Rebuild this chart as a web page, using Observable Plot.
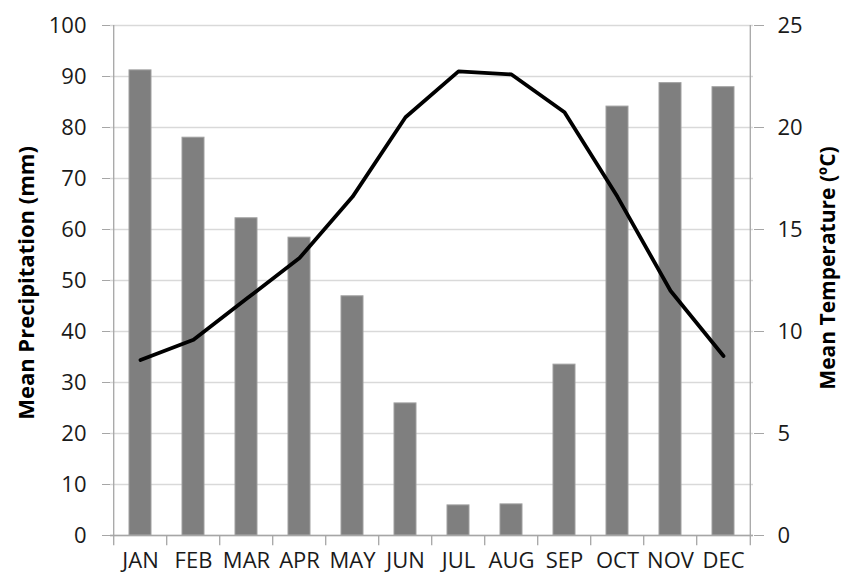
<!DOCTYPE html>
<html>
<head>
<meta charset="utf-8">
<script src="https://cdn.jsdelivr.net/npm/d3@7"></script>
<script src="https://cdn.jsdelivr.net/npm/@observablehq/plot@0.6"></script>
<style>
  html, body { margin: 0; padding: 0; background: #fff; }
  #chart svg { display: block; }
</style>
</head>
<body>
<div id="chart"></div>
<script>
const months = ["JAN","FEB","MAR","APR","MAY","JUN","JUL","AUG","SEP","OCT","NOV","DEC"];
const precipitation = [91.2, 78.0, 62.2, 58.4, 46.9, 25.9, 5.9, 6.1, 33.5, 84.1, 88.7, 87.9];
const temperature = [8.6, 9.6, 11.6, 13.6, 16.6, 20.5, 22.75, 22.6, 20.75, 16.6, 12.0, 8.8];
const leftTicks = [0,10,20,30,40,50,60,70,80,90,100];
const rightTicks = [0,5,10,15,20,25];
const leftTitle = "Mean Precipitation (mm)";
const rightTitle = "Mean Temperature (ºC)";

const W = 845, H = 578;
const mL = 110, mR = 92, mT = 25, mB = 43;
const step = (W - mL - mR) / months.length;
const ratio = 4; // 100 mm <-> 25 ºC

const data = months.map((m, i) => ({month: m, p: precipitation[i], t: temperature[i] * ratio}));
const font = "'Open Sans', sans-serif";
const axisColor = "#a6a6a6";

const plot = Plot.plot({
  width: W,
  height: H,
  marginLeft: mL,
  marginRight: mR,
  marginTop: mT,
  marginBottom: mB,
  style: {fontFamily: font, fontSize: "21px", color: "#1a1a1a", background: "#fff"},
  x: {domain: months, paddingInner: 0.59, paddingOuter: 0.295},
  y: {domain: [0, 100]},
  marks: [
    Plot.gridY(leftTicks, {stroke: "#d9d9d9", strokeOpacity: 1, strokeWidth: 1.3}),
    Plot.barY(data, {x: "month", y: "p", fill: "#7f7f7f", stroke: "#a0a0a0", strokeWidth: 1}),
    Plot.ruleY([0], {stroke: axisColor, strokeWidth: 1.3}),
    Plot.ruleX([months[0]], {y1: 0, y2: 100, dx: -step / 2, stroke: axisColor, strokeWidth: 1.3}),
    Plot.ruleX([months[months.length - 1]], {y1: 0, y2: 100, dx: step / 2, stroke: axisColor, strokeWidth: 1.3}),
    Plot.ruleX(months, {y1: 0, y2: -2, dx: -step / 2, stroke: axisColor, strokeWidth: 1.3}),
    Plot.ruleX([months[months.length - 1]], {y1: 0, y2: -2, dx: step / 2, stroke: axisColor, strokeWidth: 1.3}),
    Plot.line(data, {x: "month", y: "t", stroke: "#000", strokeWidth: 3.8, strokeLinejoin: "round"}),
    Plot.axisX({tickSize: 0, tickPadding: 17, label: null, fontSize: 22}),
    Plot.axisY(leftTicks, {anchor: "left", tickSize: 8, tickPadding: 16, stroke: axisColor, label: null, fontSize: 22}),
    Plot.axisY(rightTicks.map(v => v * ratio), {anchor: "right", tickSize: 10, tickPadding: 14, stroke: axisColor, tickFormat: d => d / ratio, label: null, fontSize: 22})
  ]
});

const svg = d3.select(plot);
const yMid = (mT + (H - mB)) / 2;
svg.append("text")
  .attr("transform", `translate(34,${yMid + 3}) rotate(-90)`)
  .attr("text-anchor", "middle")
  .attr("font-family", font)
  .attr("font-weight", "bold")
  .attr("font-size", 22)
  .attr("fill", "#000")
  .text(leftTitle);
svg.append("text")
  .attr("transform", `translate(835,${yMid - 12}) rotate(-90)`)
  .attr("text-anchor", "middle")
  .attr("font-family", font)
  .attr("font-weight", "bold")
  .attr("font-size", 21)
  .attr("fill", "#000")
  .text(rightTitle);

document.getElementById("chart").appendChild(plot);
</script>
</body>
</html>
